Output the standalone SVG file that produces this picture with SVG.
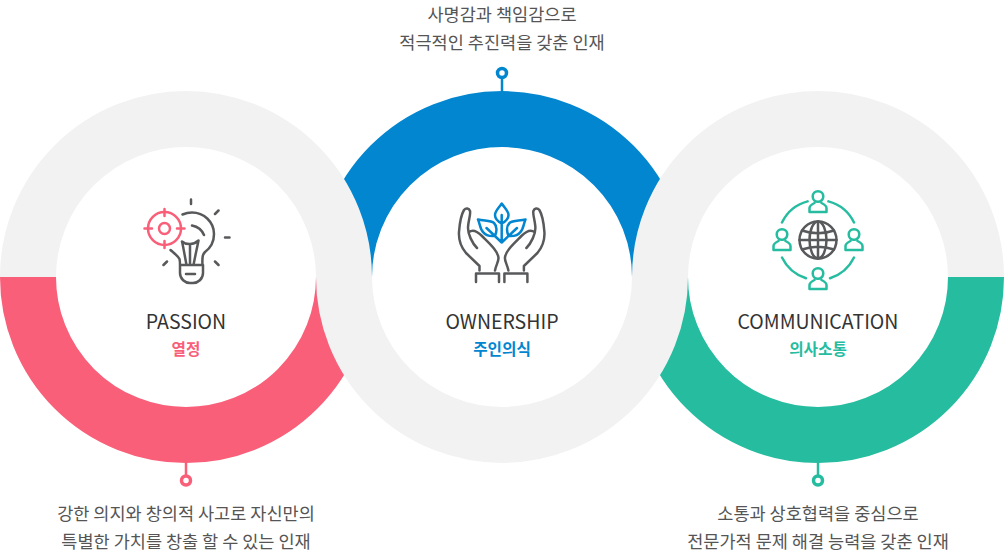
<svg xmlns="http://www.w3.org/2000/svg" width="1004" height="555" viewBox="0 0 1004 555">
<style>
.ring{fill:none;stroke-width:56}
.ic{fill:none;stroke:#58595b;stroke-width:2.500;stroke-linecap:round;stroke-linejoin:round}
.r{stroke:#f95f79}.b{stroke:#0286d0}.g{stroke:#25bc9f}
.acc{fill:none;stroke-width:2.500;stroke-linecap:round;stroke-linejoin:round}
.pin{fill:#fff;stroke-width:3.500}
.t{font-family:"Noto Sans CJK KR","Noto Sans",sans-serif;text-anchor:middle}
.d{font-size:17.550px;fill:#555;font-weight:400}
.h{font-size:19.500px;fill:#333;font-weight:400}
.s{font-size:15.700px;font-weight:700}
</style>
<defs>
<g id="person"><circle cx="0" cy="-7.500" r="5.300"/><path d="M-8.500 8V4C-8.500 1.500-5.500 0-3.500 -1M8.500 8V4C8.500 1.500 5.500 0 3.500 -1M-8.500 8H8.500"/></g>
<g id="hand"><path d="M479.500 270.500V266L466 253C460 246 458.500 240 459 232C459.500 225 461 215 464 210C466 207.500 469 208 470 211C471 214 468 222 468 228C468 234 472 243 477 248M469 232C473 229 478 232 482 236C490 244 498 251 498.500 258C498.500 262 496 265 495 270.500"/><path d="M476 282V273.500H499V282"/></g>
</defs>
<g id="connectors">
<path class="r" stroke-width="2.500" d="M186 460V476"/><path class="b" stroke-width="2.500" d="M502 77V94"/><path class="g" stroke-width="2.500" d="M818 460V476"/>
</g>
<g id="rings">
<path class="ring r" d="M28 277A158 158 0 0 0 344 277"/>
<path class="ring b" d="M344 277A158 158 0 0 1 660 277"/>
<path class="ring g" d="M660 277A158 158 0 0 0 976 277"/>
<path class="ring" stroke="#f2f2f2" d="M28 277A158 158 0 0 1 344 277"/>
<path class="ring" stroke="#f2f2f2" d="M344 277A158 158 0 0 0 660 277"/>
<path class="ring" stroke="#f2f2f2" d="M660 277A158 158 0 0 1 976 277"/>
</g>
<g id="node-passion">
<circle class="pin r" cx="186" cy="480.500" r="4.500"/>
<g class="ic">
<path d="M182.500 214.500C186 213 189 212.500 192 212.500C204 212.500 214 222 214 234C214 243 209 249 205 252C203 254 202 256 202.500 265M170.500 250C174 253 178 256 179.500 259C180 261 180 263 180 265M180 265H203V273C203 279 198 283 193 283H190C185 283 180 279 180 273ZM186 274H195M182 241.500C186 245 194 245 198.500 240.500C197 248 195 257 193.500 265M182 241.500C183.500 248 185 257 186.500 265M190 245V265M192 225.500C197 226.500 202 230 204 235"/>
<path d="M191 199.500V204M215 214L218.500 210.500M225 237.500H229.500M215 261.500L218.500 265M163.500 265L167 261.500"/>
</g>
<g class="acc r"><circle cx="164.500" cy="228.500" r="16.500"/><circle cx="164.500" cy="228.500" r="5.500"/><path d="M144.500 228.500H152M177 228.500H184.500M164.500 209V216M164.500 241V248"/></g>
<text class="t h" x="186" y="329">PASSION</text>
<text class="t s" x="186" y="355" fill="#f95f79">열정</text>
<text class="t d" x="186" y="520">강한 의지와 창의적 사고로 자신만의</text>
<text class="t d" x="186" y="548">특별한 가치를 창출 할 수 있는 인재</text>
</g>
<g id="node-ownership">
<circle class="pin b" cx="502" cy="73" r="4.500"/>
<g class="ic"><use href="#hand"/><use href="#hand" transform="translate(1003.400 0) scale(-1 1)"/></g>
<g class="acc b"><path d="M501.700 203.500C498 209 495 211 495 215C495 219 498 221.500 501.700 223.500C505.500 221.500 508.500 219 508.500 215C508.500 211 505.500 209 501.700 203.500ZM501.700 215V242.500M478 219.500C484 221 491 220.500 494 223C497 226 497 231 495 236C490 236.500 486 236 483 232C480 229 480 224 478 219.500ZM525.500 219.500C519.500 221 512.500 220.500 509.500 223C506.500 226 506.500 231 508.500 236C513.500 236.500 517.500 236 520.500 232C523.500 229 523.500 224 525.500 219.500ZM486.500 228L501.700 242.500L517 228"/></g>
<text class="t h" x="502" y="329">OWNERSHIP</text>
<text class="t s" x="502" y="355" fill="#0286d0">주인의식</text>
<text class="t d" x="502" y="21">사명감과 책임감으로</text>
<text class="t d" x="502" y="49">적극적인 추진력을 갖춘 인재</text>
</g>
<g id="node-communication">
<circle class="pin g" cx="818" cy="480.500" r="4.500"/>
<g class="ic"><circle cx="818" cy="240" r="18.500"/><ellipse cx="818" cy="240" rx="8.500" ry="18.500"/><path d="M818 221.500V258.500M799.500 240H836.500M802 230.500C812 234 824 234 834 230.500M802 249.500C812 246 824 246 834 249.500"/></g>
<g class="acc g">
<use href="#person" x="818" y="204"/><use href="#person" x="782" y="242"/><use href="#person" x="854" y="242"/><use href="#person" x="818" y="281"/>
<path d="M828.400 201.400A40 40 0 0 1 854 222.500M854 257.500A40 40 0 0 1 830 278.200M806 278.200A40 40 0 0 1 782 257.500M782 222.500A40 40 0 0 1 807.600 201.400"/>
</g>
<text class="t h" x="818" y="329">COMMUNICATION</text>
<text class="t s" x="818" y="355" fill="#25bc9f">의사소통</text>
<text class="t d" x="818" y="520">소통과 상호협력을 중심으로</text>
<text class="t d" x="818" y="548">전문가적 문제 해결 능력을 갖춘 인재</text>
</g>
</svg>
